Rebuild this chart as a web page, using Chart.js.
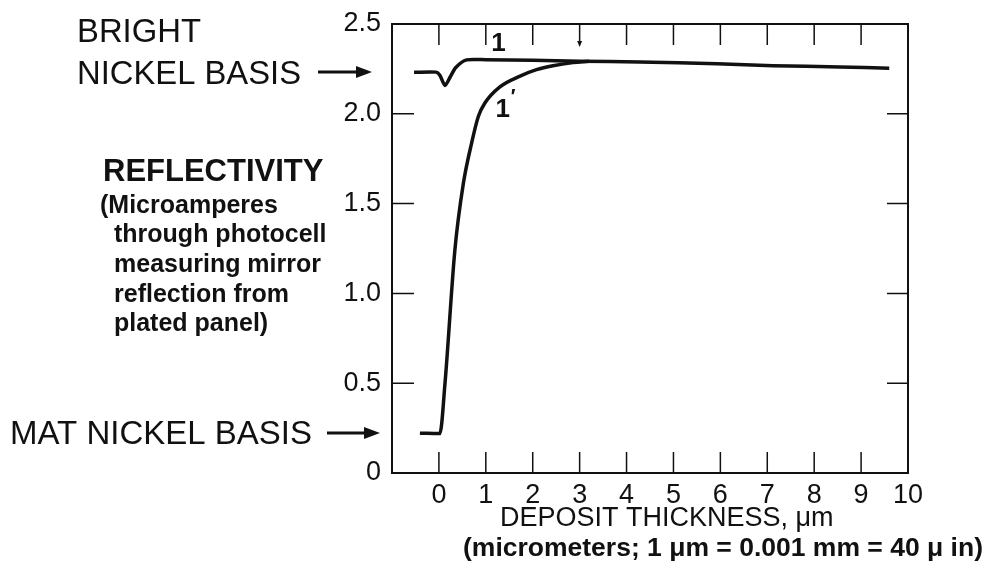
<!DOCTYPE html>
<html>
<head>
<meta charset="utf-8">
<script src="https://cdn.jsdelivr.net/npm/chart.js@4"></script>
<style>
  body { margin: 0; background: #fff; }
  canvas { display: block; }
</style>
</head>
<body>
<canvas id="chart" width="985" height="564"></canvas>
<script>
// curve 1: bright nickel basis
const brightX = [-0.53, -0.06, 0.02, 0.13, 0.24, 0.36, 0.59, 1.0, 2.0, 3.0, 4.28, 5.93, 7.12, 8.55, 9.6];
const brightY = [2.231, 2.232, 2.215, 2.158, 2.205, 2.258, 2.30, 2.301, 2.298, 2.292, 2.289, 2.278, 2.268, 2.261, 2.253];
// curve 1': mat nickel basis
const matX = [-0.405, 0.02, 0.13, 0.34, 0.52, 0.70, 0.84, 0.98, 1.30, 1.73, 2.08, 2.43, 2.86, 3.2];
const matY = [0.222, 0.22, 0.5, 1.24, 1.61, 1.84, 1.985, 2.06, 2.15, 2.21, 2.246, 2.268, 2.285, 2.292];

const xTicks = [0, 1, 2, 3, 4, 5, 6, 7, 8, 9, 10];
const yTicks = [0, 0.5, 1.0, 1.5, 2.0, 2.5];

const ink = "#111";

function toPoints(xs, ys) {
  let pts = [];
  for (let i = 0; i < xs.length; i++) {
    pts.push({ x: xs[i], y: ys[i] });
  }
  return pts;
}

function arrow(ctx, x1, x2, y) {
  ctx.beginPath();
  ctx.moveTo(x1, y);
  ctx.lineTo(x2 - 12, y);
  ctx.lineWidth = 3;
  ctx.stroke();
  ctx.beginPath();
  ctx.moveTo(x2, y);
  ctx.lineTo(x2 - 16, y - 6);
  ctx.lineTo(x2 - 16, y + 6);
  ctx.closePath();
  ctx.fill();
}

const decorations = {
  id: "decorations",
  afterDraw(chart) {
    const ctx = chart.ctx;
    const area = chart.chartArea;
    const xs = chart.scales.x;
    const ys = chart.scales.y;
    ctx.save();
    ctx.strokeStyle = ink;
    ctx.fillStyle = ink;

    // frame
    ctx.lineWidth = 2;
    ctx.strokeRect(area.left, area.top, area.right - area.left, area.bottom - area.top);

    // inward tick marks
    ctx.lineWidth = 1.5;
    ctx.beginPath();
    for (const v of yTicks) {
      if (v === 0 || v === 2.5) continue;
      const py = ys.getPixelForValue(v);
      ctx.moveTo(area.left, py);
      ctx.lineTo(area.left + 22, py);
      ctx.moveTo(area.right, py);
      ctx.lineTo(area.right - 21, py);
    }
    for (const v of xTicks) {
      if (v === 10) continue;
      const px = xs.getPixelForValue(v);
      ctx.moveTo(px, area.bottom);
      ctx.lineTo(px, area.bottom - 21);
      ctx.moveTo(px, area.top);
      ctx.lineTo(px, area.top + (v === 3 ? 18 : 21));
    }
    ctx.stroke();
    // small arrowhead on the top tick at 3
    const p3 = xs.getPixelForValue(3);
    ctx.beginPath();
    ctx.moveTo(p3, area.top + 23);
    ctx.lineTo(p3 - 2.5, area.top + 17);
    ctx.lineTo(p3 + 2.5, area.top + 17);
    ctx.closePath();
    ctx.fill();

    // curve labels
    ctx.font = "bold 26px 'Liberation Sans', Arial, sans-serif";
    ctx.textAlign = "center";
    ctx.textBaseline = "middle";
    ctx.fillText("1", xs.getPixelForValue(1.27), ys.getPixelForValue(2.39));
    ctx.fillText("1", xs.getPixelForValue(1.36), ys.getPixelForValue(2.02));
    ctx.font = "bold 20px 'Liberation Sans', Arial, sans-serif";
    ctx.fillText("\u2032", xs.getPixelForValue(1.58), ys.getPixelForValue(2.09));

    // left side labels
    ctx.textAlign = "left";
    ctx.textBaseline = "alphabetic";
    ctx.font = "33px 'Liberation Sans', Arial, sans-serif";
    ctx.fillText("BRIGHT", 77, 42, 124);
    ctx.fillText("NICKEL BASIS", 77, 84, 224);
    ctx.fillText("MAT NICKEL BASIS", 10, 444, 308);
    ctx.font = "bold 31px 'Liberation Sans', Arial, sans-serif";
    ctx.fillText("REFLECTIVITY", 103, 181, 225);
    ctx.font = "bold 25px 'Liberation Sans', Arial, sans-serif";
    ctx.fillText("(Microamperes", 100, 213, 186);
    ctx.fillText("through photocell", 114, 242, 217);
    ctx.fillText("measuring mirror", 114, 272, 212);
    ctx.fillText("reflection from", 114, 302, 192);
    ctx.fillText("plated panel)", 114, 331, 177);

    arrow(ctx, 318, 372, Math.round(ys.getPixelForValue(brightY[0])));
    arrow(ctx, 327, 380, Math.round(ys.getPixelForValue(matY[0])));

    // x axis title
    ctx.font = "27px 'Liberation Sans', Arial, sans-serif";
    ctx.fillText("DEPOSIT THICKNESS, \u03bcm", 500, 526, 370);
    ctx.font = "bold 26.5px 'Liberation Sans', Arial, sans-serif";
    ctx.fillText("(micrometers; 1 \u03bcm = 0.001 mm = 40 \u03bc in)", 463, 556, 520);

    ctx.restore();
  },
};

const ctx = document.getElementById("chart").getContext("2d");
const myChart = new Chart(ctx, {
  type: "line",
  data: {
    datasets: [
      {
        label: "1",
        data: toPoints(brightX, brightY),
        borderColor: ink,
        borderWidth: 3.5,
        pointRadius: 0,
        tension: 0.25,
        fill: false,
      },
      {
        label: "1'",
        data: toPoints(matX, matY),
        borderColor: ink,
        borderWidth: 3.5,
        pointRadius: 0,
        cubicInterpolationMode: "monotone",
        fill: false,
      },
    ],
  },
  options: {
    responsive: false,
    animation: false,
    layout: { padding: { top: 24, right: 77, left: 0, bottom: 0 } },
    plugins: {
      legend: { display: false },
      tooltip: { enabled: false },
    },
    scales: {
      x: {
        type: "linear",
        min: -1,
        max: 10,
        grid: { display: false },
        border: { display: false },
        afterFit: (s) => { s.height = 91; },
        afterBuildTicks: (s) => { s.ticks = xTicks.map((v) => ({ value: v })); },
        ticks: {
          color: ink,
          padding: -2,
          maxRotation: 0,
          autoSkip: false,
          font: { family: "'Liberation Sans', Arial, sans-serif", size: 27 },
          callback: (v) => String(v),
        },
      },
      y: {
        type: "linear",
        min: 0,
        max: 2.5,
        grid: { display: false },
        border: { display: false },
        afterFit: (s) => { s.width = 392; },
        afterBuildTicks: (s) => { s.ticks = yTicks.map((v) => ({ value: v })); },
        ticks: {
          color: ink,
          padding: 3,
          font: { family: "'Liberation Sans', Arial, sans-serif", size: 27 },
          callback: (v) => (v === 0 ? "0" : v.toFixed(1)),
        },
      },
    },
  },
  plugins: [decorations],
});
</script>
</body>
</html>
